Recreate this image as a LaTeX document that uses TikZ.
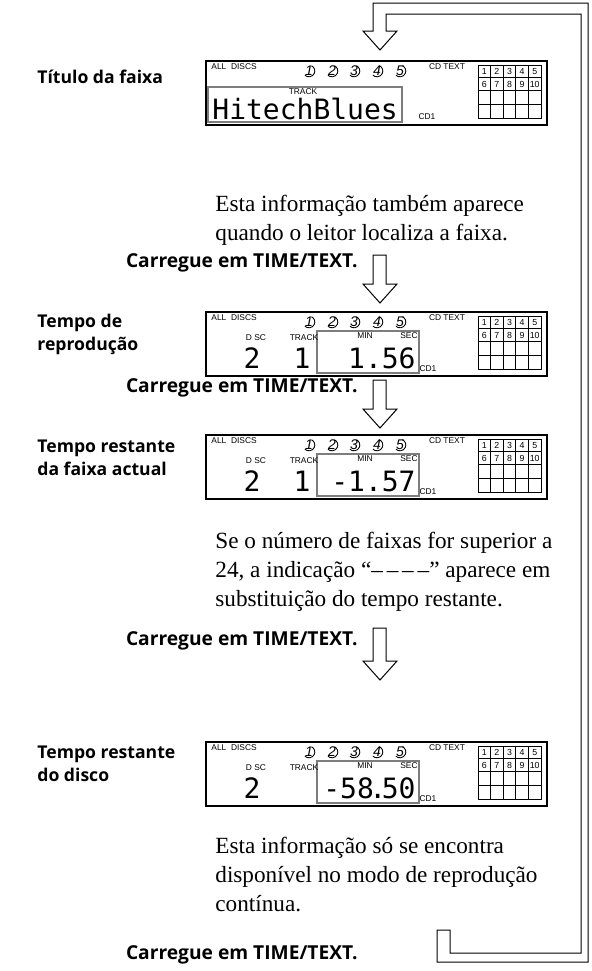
\documentclass[tikz,border=0pt]{standalone}
\usepackage{fontspec}
\setmainfont{Liberation Serif}
\setsansfont{Open Sans}
\newfontfamily\lcdfont{DejaVu Sans Mono}
\newfontfamily\tinyfont{Liberation Sans}
\usetikzlibrary{positioning, arrows.meta}

\definecolor{wingray}{RGB}{125,125,125}

% common part of one LCD panel, #1 = name, #2 = top edge
\newcommand{\lcdpanel}[2]{%
  \begin{scope}[shift={(205,#2)}]
    \node[lcdframe, anchor=north west] (#1) at (0,0) {};
    \node[tinylbl, anchor=west] (#1all) at (6,7) {ALL\ \ DISCS};
    \foreach \d/\x in {1/104,2/127,3/149,4/172,5/195}{
      \node[discnum] (#1disc\d) at (\x,11) {\d};
      \draw[line width=0.45pt] (\x,11) ++(-65:5.8) arc[start angle=-65, end angle=135, radius=5.8];
    }
    \node[tinylbl] (#1cdt) at (242,7) {CD TEXT};
    \draw[line width=0.4pt] (273,5) rectangle (336,58);
    \foreach \c in {1,...,4} \draw[line width=0.4pt] (273+12.6*\c,5) -- (273+12.6*\c,58);
    \foreach \r in {17,30,44} \draw[line width=0.4pt] (273,\r) -- (336,\r);
    \foreach \n [evaluate=\n as \m using int(\n+5)] in {1,...,5}{
      \node[gridnum] at (266.7+12.6*\n,11.5) {\n};
      \node[gridnum] at (266.7+12.6*\n,24) {\m};
    }
  \end{scope}}

% time read-out, #1 = top edge, #2 disc, #3 track, #4 time
\newcommand{\timepanel}[4]{%
  \begin{scope}[shift={(205,#1)}]
    \draw[winframe] (112,20) rectangle (214,62);
    \node[tinylbl] at (51,27) {D SC};
    \node[tinylbl] at (99,27) {TRACK};
    \node[tinylbl] at (160,25) {MIN};
    \node[tinylbl] at (204,25) {SEC};
    \node[lcdtxt, anchor=base] at (47,57) {#2};
    \node[lcdtxt, anchor=base east] at (106,57) {#3};
    \node[lcdtxt, anchor=base east] at (211,57) {#4};
    \node[tinylbl] at (223,58) {CD1};
  \end{scope}}

% hollow arrow under a "Carregue" label
\newcommand{\pressarrow}[2]{%
  \draw[blockarrow] (373,#1) -- (373,#2-19) -- (363,#2-19) -- (380,#2)
    -- (397,#2-19) -- (386,#2-19) -- (386,#1) -- cycle;}

\begin{document}
\begin{tikzpicture}[x=0.5pt, y=-0.5pt,
  heading/.style={font=\sffamily\bfseries\fontsize{8.8}{11.5}\selectfont, anchor=west, align=left, inner sep=0pt},
  presslbl/.style={font=\sffamily\bfseries\fontsize{9.6}{11}\selectfont, anchor=east, inner sep=0pt},
  note/.style={font=\fontsize{11.6}{14.5}\selectfont, anchor=north west, align=left, inner sep=0pt},
  tinylbl/.style={font=\tinyfont\fontsize{4.2}{5}\selectfont, inner sep=0pt},
  gridnum/.style={font=\tinyfont\fontsize{4.4}{5}\selectfont, inner sep=0pt},
  discnum/.style={font=\tinyfont\itshape\fontsize{7}{7}\selectfont, inner sep=0pt},
  lcdtxt/.style={font=\lcdfont\fontsize{14}{14}\selectfont, inner sep=0pt},
  lcdframe/.style={draw, line width=1pt, minimum width=170.5pt, minimum height=32pt, inner sep=0pt},
  winframe/.style={draw=wingray, line width=0.9pt},
  blockarrow/.style={draw, line width=0.5pt, fill=white},
]
  \useasboundingbox (0,0) rectangle (592,971);

  % return loop back to the top
  \draw[blockarrow] (437,930) -- (437,962) -- (588,962) -- (588,3) -- (373,3)
    -- (373,31) -- (363,31) -- (380,50) -- (397,31) -- (386,31) -- (386,14)
    -- (581,14) -- (581,953) -- (450,953) -- (450,930) -- cycle;

  % track title
  \node[heading] (h1) at (37,77) {Título da faixa};
  \lcdpanel{d1}{60}
  \begin{scope}[shift={(205,60)}]
    \draw[winframe] (3,27) rectangle (197,62);
    \node[tinylbl] (d1trk) at (98,32) {TRACK};
    \node[lcdtxt, anchor=base west] (d1txt) at (7,59) {HitechBlues};
    \node[tinylbl] (d1cd) at (222,57) {CD1};
  \end{scope}
  \node[note] (n1) at (215,195) {Esta informação também aparece\\quando o leitor localiza a faixa.};

  \node[presslbl] (p1) at (358,263) {Carregue em TIME/TEXT.};
  \pressarrow{255}{303}

  % playing time
  \node[heading] (h2) at (37,334) {Tempo de\\reprodução};
  \lcdpanel{d2}{311}
  \timepanel{311}{2}{1}{1.56}

  \node[presslbl] (p2) at (358,388) {Carregue em TIME/TEXT.};
  \pressarrow{380}{428}

  % remaining time of track
  \node[heading] (h3) at (37,458) {Tempo restante\\da faixa actual};
  \lcdpanel{d3}{434}
  \timepanel{434}{2}{1}{-1.57}
  \node[note] (n2) at (215,532) {Se o número de faixas for superior a\\24, a indicação “–\,–\,–\,–” aparece em\\substituição do tempo restante.};

  \node[presslbl] (p3) at (358,641) {Carregue em TIME/TEXT.};
  \pressarrow{628}{680}

  % remaining time of disc
  \node[heading] (h4) at (37,764) {Tempo restante\\do disco};
  \lcdpanel{d4}{741}
  \timepanel{741}{2}{}{-58\makebox[4pt]{.}50}
  \node[note] (n3) at (215,837) {Esta informação só se encontra\\disponível no modo de reprodução\\contínua.};

  \node[presslbl] (p4) at (358,955) {Carregue em TIME/TEXT.};
\end{tikzpicture}
\end{document}
